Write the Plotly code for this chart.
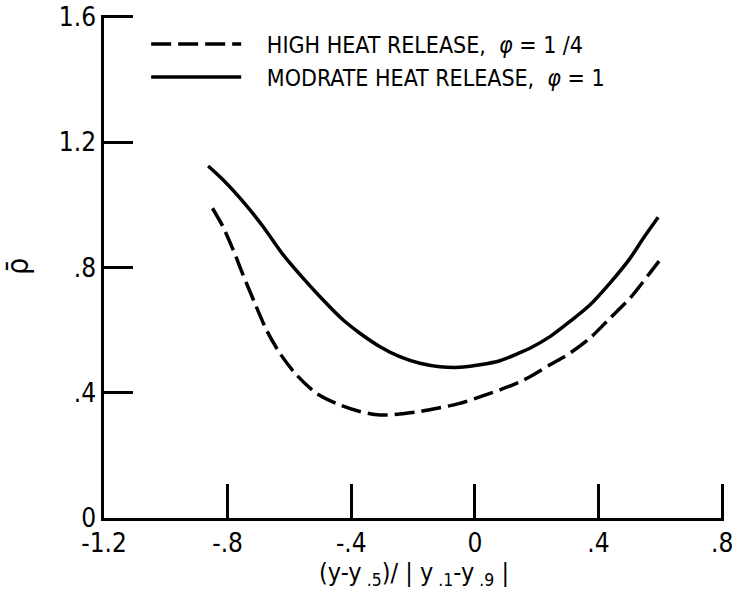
import plotly.graph_objects as go

# Normalised lateral coordinate and mean density for the two heat-release cases
x_high = [-0.849, -0.815, -0.782, -0.750, -0.712, -0.674, -0.631, -0.577, -0.512,
          -0.437, -0.372, -0.307, -0.243, -0.178, -0.113, -0.049, 0.016, 0.081,
          0.146, 0.178, 0.243, 0.307, 0.372, 0.437, 0.502, 0.566, 0.609]
rho_high = [0.989, 0.930, 0.856, 0.776, 0.686, 0.600, 0.526, 0.457, 0.398,
            0.361, 0.340, 0.329, 0.332, 0.340, 0.352, 0.366, 0.387, 0.409,
            0.435, 0.451, 0.489, 0.526, 0.574, 0.638, 0.702, 0.782, 0.837]

x_mod = [-0.863, -0.815, -0.750, -0.685, -0.620, -0.556, -0.491, -0.426, -0.372,
         -0.307, -0.243, -0.178, -0.113, -0.049, 0.016, 0.081, 0.146, 0.178,
         0.243, 0.307, 0.372, 0.437, 0.502, 0.545, 0.593]
rho_mod = [1.124, 1.080, 1.010, 0.930, 0.840, 0.766, 0.696, 0.632, 0.590,
           0.547, 0.515, 0.494, 0.483, 0.481, 0.489, 0.502, 0.528, 0.542,
           0.579, 0.627, 0.680, 0.750, 0.829, 0.893, 0.960]

x_tickvals = [-1.2, -0.8, -0.4, 0.0, 0.4, 0.8]
x_ticktext = ["-1.2", "-.8", "-.4", "0", ".4", ".8"]
y_tickvals = [0.0, 0.4, 0.8, 1.2, 1.6]
y_ticktext = ["0", ".4", ".8", "1.2", "1.6"]

FONT = "DejaVu Sans Condensed, Liberation Sans Narrow, Arial Narrow, sans-serif"
GAP = "\u2002\u2002"

fig = go.Figure()
fig.add_trace(go.Scatter(
    x=x_high, y=rho_high, mode="lines", line_shape="spline",
    line=dict(color="black", width=3.5, dash="20px,7px", smoothing=0.8),
    name=GAP + "HIGH HEAT RELEASE,  <i>φ</i> = 1 /4",
))
fig.add_trace(go.Scatter(
    x=x_mod, y=rho_mod, mode="lines", line_shape="spline",
    line=dict(color="black", width=3.5, smoothing=0.8),
    name=GAP + "MODRATE HEAT RELEASE,  <i>φ</i> = 1",
))

fig.update_layout(
    width=732, height=594,
    margin=dict(l=104, r=8, t=15, b=76),
    paper_bgcolor="white", plot_bgcolor="white",
    font=dict(family=FONT, size=23, color="black"),
    showlegend=True,
    legend=dict(x=0.068, y=0.985, xanchor="left", yanchor="top",
                bgcolor="rgba(0,0,0,0)", itemwidth=90,
                font=dict(size=23), tracegroupgap=0),
)
# small padding past the last tick keeps the end tick marks visible
fig.update_xaxes(
    range=[-1.2, 0.806], tickvals=x_tickvals, ticktext=x_ticktext,
    ticks="inside", ticklen=34, tickwidth=2.5, tickcolor="black",
    ticklabeloverflow="allow", automargin=False,
    showline=True, linewidth=2.5, linecolor="black",
    showgrid=False, zeroline=False,
    tickfont=dict(size=26),
    title=dict(text="(y-y<sub> .5</sub>)/ | y<sub> .1</sub>-y<sub> .9</sub> |",
               font=dict(size=25), standoff=4),
)
fig.update_yaxes(
    range=[0, 1.606], tickvals=y_tickvals, ticktext=y_ticktext,
    ticks="inside", ticklen=29, tickwidth=2.5, tickcolor="black",
    ticklabeloverflow="allow", automargin=False,
    showline=True, linewidth=2.5, linecolor="black",
    showgrid=False, zeroline=False,
    tickfont=dict(size=26),
    title=dict(text="ρ̄", font=dict(size=30), standoff=22),
)

fig.write_html("out.html")
